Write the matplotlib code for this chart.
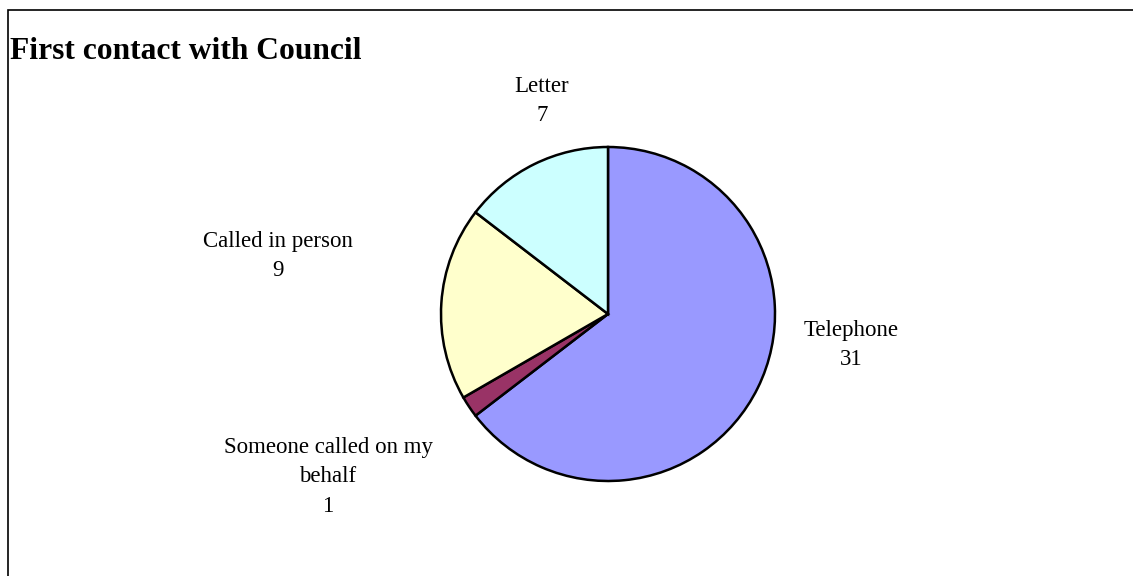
import matplotlib
matplotlib.use("Agg")
import matplotlib.pyplot as plt
from matplotlib.patches import Rectangle

# survey answers, clockwise from 12 o'clock
labels = ["Telephone", "Someone called on my\nbehalf", "Called in person", "Letter"]
counts = [31, 1, 9, 7]
colors = ["#9999FF", "#993366", "#FFFFCC", "#CCFFFF"]

# label anchor points (pixels, y measured from the top)
label_pos = [(851, 345), (328, 477), (278, 256), (542, 101)]

W, H = 1133, 576
fig = plt.figure(figsize=(W / 100, H / 100), dpi=100)
ax = fig.add_axes([0, 0, 1, 1])

ax.pie(counts, colors=colors, startangle=90, counterclock=False,
       center=(608, H - 314), radius=167,
       wedgeprops=dict(edgecolor="black", linewidth=1.8))
ax.set_xlim(0, W)
ax.set_ylim(0, H)
ax.set_aspect("equal")
ax.axis("off")

serif = ["Liberation Serif", "DejaVu Serif"]
for lab, n, (x, y) in zip(labels, counts, label_pos):
    ax.text(x, H - y, f"{lab}\n{n}", ha="center", va="center",
            fontsize=16.5, family=serif, linespacing=1.5)

ax.text(10, H - 59, "First contact with Council", ha="left", va="baseline",
        fontsize=22.7, fontweight="bold", family=serif)

# outer frame, runs off the right and bottom edges
ax.add_patch(Rectangle((8, -20), W + 20, H - 10 + 20, fill=False,
                       edgecolor="black", linewidth=1.2, clip_on=False))

fig.savefig("out.png", dpi=100)
